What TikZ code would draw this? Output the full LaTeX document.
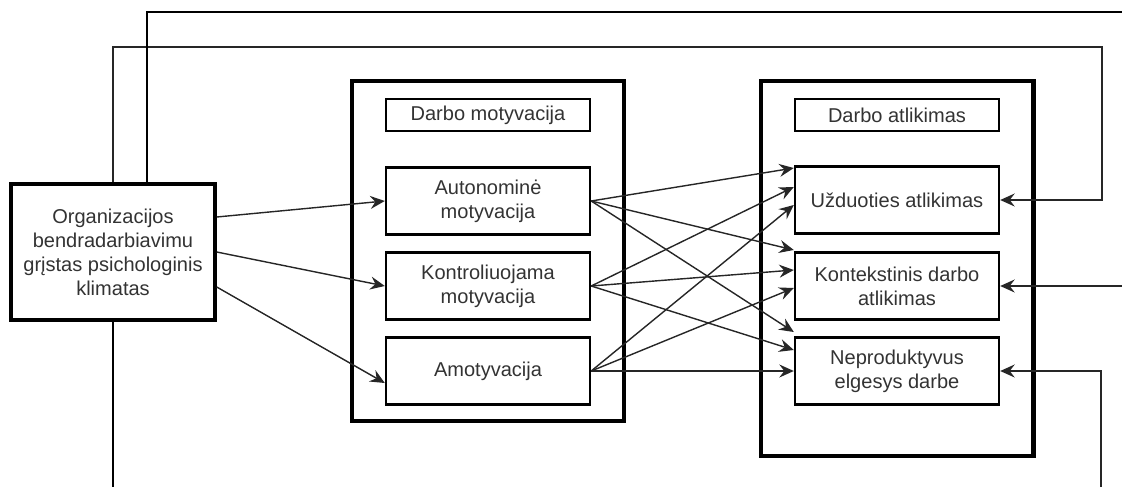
\documentclass[tikz,border=0pt]{standalone}
\usepackage{fontspec}
\setmainfont{Liberation Sans}
\usetikzlibrary{arrows.meta,calc}
\definecolor{txtgray}{RGB}{51,51,51}
\tikzset{
  frame/.style={draw, line width=2.3pt, fill=white, inner sep=0pt},
  varbox/.style={draw, line width=1.4pt, fill=white, minimum width=4.08cm,
    minimum height=1.34cm, align=center, text=txtgray},
  titlebox/.style={varbox, minimum height=0.65cm},
  link/.style={-{Stealth[length=2.9mm,width=2.6mm,inset=1mm]}, line width=0.8pt, draw=black!85},
  fb/.style={line width=0.65pt},
}
\begin{document}
\begin{tikzpicture}[x=0.02cm, y=-0.02cm, font=\fontsize{11.4}{13.7}\selectfont]
\useasboundingbox (0,0) rectangle (1122,487);

% outer frames
\node[frame, minimum width=5.44cm, minimum height=6.79cm] (motFrame) at (488,251) {};
\node[frame, minimum width=5.46cm, minimum height=7.5cm] (perfFrame) at (897,268.5) {};

% climate
\node[varbox, line width=2.3pt, minimum width=4.07cm, minimum height=2.71cm] (org) at (113,252)
  {Organizacijos\\bendradarbiavimu\\grįstas psichologinis\\klimatas};

% motivation
\node[titlebox] (motTitle) at (488,115) {Darbo motyvacija};
\node[varbox] (auto) at (488,201) {Autonominė\\motyvacija};
\node[varbox] (kontr) at (488,286) {Kontroliuojama\\motyvacija};
\node[varbox] (amot) at (488,371) {Amotyvacija};

% performance
\node[titlebox] (perfTitle) at (897,115) {Darbo atlikimas};
\node[varbox] (uzd) at (897,200) {Užduoties atlikimas};
\node[varbox] (kont) at (897,286) {Kontekstinis darbo\\atlikimas};
\node[varbox] (nepr) at (897,371) {Neproduktyvus\\elgesys darbe};

% climate -> motivation
\draw[link] ($(org.east)+(0,-35)$) -- (auto.west);
\draw[link] (org.east) -- (kontr.west);
\draw[link] ($(org.east)+(0,35)$) -- ($(amot.west)+(0,12)$);

% motivation -> performance
\foreach \src/\dst/\dy in {auto/uzd/-32, kontr/uzd/-13, amot/uzd/5,
    auto/kont/-36, kontr/kont/-16, amot/kont/2,
    auto/nepr/-39, kontr/nepr/-21, amot/nepr/0}
  \draw[link] (\src.east) -- ($(\dst.west)+(0,\dy)$);

% lines around
\coordinate (fbTurn) at (1102,47);
\draw[link, fb] (org.north) |- (fbTurn) |- (uzd.east);
\coordinate (topOut) at (1122,12);
\draw[fb] ($(org.north)+(34,0)$) |- (topOut);
\coordinate (botOut) at (113,487);
\draw[fb] (org.south) -- (botOut);
\coordinate (rightOut) at (1122,286);
\draw[link, fb] (rightOut) -- (kont.east);
\coordinate (cornerOut) at (1101,487);
\draw[link, fb] (cornerOut) |- (nepr.east);
\end{tikzpicture}
\end{document}
